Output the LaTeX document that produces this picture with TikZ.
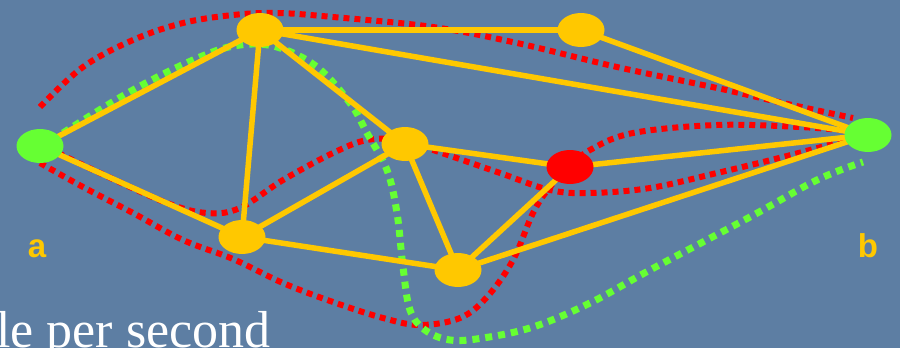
\documentclass[tikz,border=0pt]{standalone}
\usepackage{fontspec}
\setmainfont{Liberation Serif}
\newfontfamily\labfont{Liberation Sans}
\usetikzlibrary{shapes.geometric}
\definecolor{bgblue}{RGB}{93,126,163}
\definecolor{gold}{RGB}{255,200,0}
\definecolor{lgreen}{RGB}{102,255,51}
\definecolor{pred}{RGB}{255,0,0}
\pgfdeclarelayer{bg}
\pgfdeclarelayer{paths}
\pgfsetlayers{bg,paths,main}
\tikzset{
  vtx/.style={ellipse, minimum width=47pt, minimum height=34pt, inner sep=0pt, fill=gold},
  endvtx/.style={vtx, fill=lgreen},
  redvtx/.style={vtx, fill=pred},
  edge/.style={gold, line width=5.5pt},
  redpath/.style={pred, line width=6pt, dash pattern=on 6pt off 5pt},
  greenpath/.style={lgreen, line width=7pt, dash pattern=on 7pt off 6pt},
  lab/.style={text=gold, font=\labfont\bfseries\fontsize{33}{36}\selectfont, anchor=base, inner sep=0pt},
}
\begin{document}
\begin{tikzpicture}[x=1pt,y=-1pt]
\useasboundingbox (0,0) rectangle (900,348);
\clip (0,0) rectangle (900,348);

% nodes
\node[endvtx] (a) at (40,146) {};
\node[vtx] (n1) at (260,30) {};
\node[vtx] (n2) at (581,30) {};
\node[vtx] (n3) at (405,144) {};
\node[vtx] (n4) at (242,237) {};
\node[vtx] (n5) at (458,270) {};
\node[redvtx] (r) at (570,167) {};
\node[endvtx] (b) at (868,135) {};

\begin{pgfonlayer}{bg}
\fill[bgblue] (0,0) rectangle (900,348);
% dotted paths
\draw[redpath] plot[smooth, tension=0.6] coordinates {(40,107) (83,67) (133,40) (183,23) (233,15) (277,13) (333,17) (433,27) (517,43) (617,67) (717,88) (783,103) (853,118)};
\draw[redpath] plot[smooth, tension=0.6] coordinates {(58,153) (100,173) (167,203) (207,213) (240,208) (283,180) (333,153) (367,140) (400,140) (433,150) (500,173) (550,190) (590,193) (650,188) (717,173) (783,157) (855,138)};
\draw[redpath] plot[smooth, tension=0.6] coordinates {(40,163) (83,187) (133,213) (183,240) (233,259) (283,283) (333,302) (383,318) (420,325) (460,318) (487,297) (513,260) (533,213) (550,187) (570,167) (590,150) (633,133) (717,125) (800,127) (852,131)};
\draw[greenpath] plot[smooth, tension=0.6] coordinates {(63,133) (133,90) (200,57) (240,45) (277,47) (317,67) (350,103) (367,133) (387,170) (397,213) (403,267) (410,310) (425,330) (450,340) (483,338) (533,327) (590,303) (650,270) (750,217) (817,180) (863,162)};
\end{pgfonlayer}

\begin{pgfonlayer}{paths}
\foreach \u/\v in {a/n1, a/n4, n1/n2, n1/b, n1/n4, n1/n3, n3/n4, n3/r, n3/n5, n4/n5, n5/r, n5/b, r/b, n2/b}
  \draw[edge] (\u.center) -- (\v.center);
\end{pgfonlayer}

\node[lab] (la) at (37,257) {a};
\node[lab] (lb) at (868,257) {b};

\node[anchor=base west, inner sep=0pt, text=white, font=\fontsize{52}{56}\selectfont] (txt) at (-4,347) {le per second};
\end{tikzpicture}
\end{document}
